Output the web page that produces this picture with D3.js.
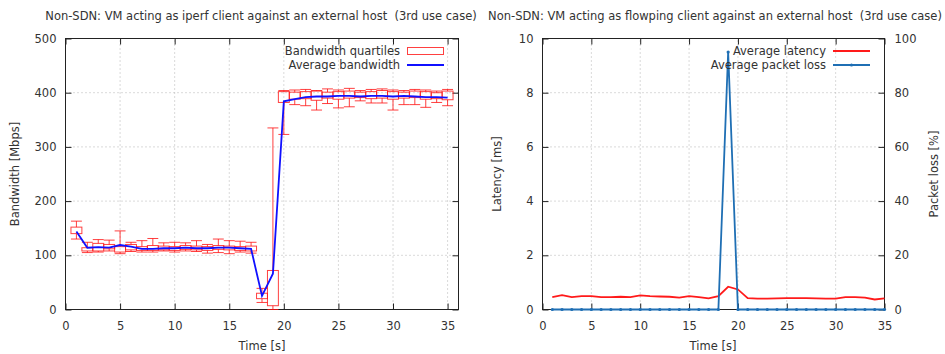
<!DOCTYPE html>
<html>
<head>
<meta charset="utf-8">
<script src="https://cdn.jsdelivr.net/npm/d3@7"></script>
<style>
body { margin: 0; background: #fff; }
text { font-family: "DejaVu Sans", sans-serif; font-size: 11.5px; fill: #333; white-space: pre; }
</style>
</head>
<body>
<svg id="chart" width="945" height="354"></svg>
<script>
'use strict';

// time axis (seconds)
var times = [1, 2, 3, 4, 5, 6, 7, 8, 9, 10, 11, 12, 13, 14, 15, 16, 17, 18, 19, 20,
	21, 22, 23, 24, 25, 26, 27, 28, 29, 30, 31, 32, 33, 34, 35];

// iperf bandwidth quartiles [Mbps]
var bwMin = [130, 105, 106, 108, 103, 107, 106, 106, 108, 106, 108, 107, 104, 105, 103, 106, 104, 13, 0, 323,
	378, 376, 368, 380, 372, 374, 385, 381, 381, 368, 378, 378, 373, 382, 376];
var bwQ1 = [140, 108, 108, 112, 106, 110, 109, 109, 110, 109, 111, 110, 109, 111, 110, 109, 108, 20, 7, 382,
	388, 389, 386, 390, 388, 390, 391, 389, 390, 388, 390, 391, 388, 389, 387];
var bwQ3 = [152, 114, 122, 120, 116, 120, 116, 118, 117, 116, 118, 117, 116, 118, 117, 116, 117, 30, 72, 402,
	401, 402, 403, 401, 402, 403, 401, 402, 404, 402, 401, 403, 402, 400, 403];
var bwMax = [163, 124, 129, 128, 145, 124, 127, 131, 123, 124, 123, 127, 120, 130, 127, 126, 124, 39, 335, 404,
	405, 406, 404, 407, 405, 408, 404, 406, 407, 405, 404, 406, 405, 403, 406];
var bwAvg = [144, 114, 115, 114, 119, 116, 112, 112, 113, 113, 114, 113, 113, 114, 114, 113, 112, 25, 66, 384,
	388, 392, 393, 393, 394, 394, 393, 394, 394, 393, 394, 393, 392, 392, 391];

// flowping latency [ms] and packet loss [%]
var latency = [0.46, 0.53, 0.46, 0.49, 0.49, 0.46, 0.46, 0.47, 0.46, 0.52, 0.49, 0.48, 0.47, 0.44, 0.49, 0.46, 0.41, 0.49, 0.84, 0.74,
	0.42, 0.40, 0.40, 0.41, 0.42, 0.42, 0.42, 0.41, 0.40, 0.40, 0.46, 0.46, 0.44, 0.37, 0.41];
var packetLoss = [0, 0, 0, 0, 0, 0, 0, 0, 0, 0, 0, 0, 0, 0, 0, 0, 0, 0, 95, 0,
	0, 0, 0, 0, 0, 0, 0, 0, 0, 0, 0, 0, 0, 0, 0];

// tick values
var timeTicksL = [0, 5, 10, 15, 20, 25, 30, 35];
var timeTicksR = [0, 5, 10, 15, 20, 25, 30, 35];
var bwTicks = [0, 100, 200, 300, 400, 500];
var latTicks = [0, 2, 4, 6, 8, 10];
var lossTicks = [0, 20, 40, 60, 80, 100];

var svg = d3.select('#chart');
svg.append('rect').attr('width', 945).attr('height', 354).attr('fill', '#fff');

function drawFrame(g, x, y, xTicks, yTicks) {
	var x0 = x.range()[0], x1 = x.range()[1];
	var y0 = y.range()[0], y1 = y.range()[1];

	// dotted grid
	g.selectAll('line.gx').data(xTicks.filter(function (d) { return x(d) > x0 + 1 && x(d) < x1 - 1; }))
		.enter().append('line').attr('class', 'gx')
		.attr('x1', function (d) { return x(d); }).attr('x2', function (d) { return x(d); })
		.attr('y1', y0).attr('y2', y1)
		.attr('stroke', '#b4b4b4').attr('stroke-dasharray', '1,3');
	g.selectAll('line.gy').data(yTicks.filter(function (d) { return y(d) < y0 - 1 && y(d) > y1 + 1; }))
		.enter().append('line').attr('class', 'gy')
		.attr('y1', function (d) { return y(d); }).attr('y2', function (d) { return y(d); })
		.attr('x1', x0).attr('x2', x1)
		.attr('stroke', '#b4b4b4').attr('stroke-dasharray', '1,3');

	// ticks pointing inwards, mirrored on top
	g.append('g').attr('transform', 'translate(0,' + y0 + ')')
		.call(d3.axisBottom(x).tickValues(xTicks).tickSize(-6).tickPadding(12));
	g.append('g').attr('transform', 'translate(0,' + y1 + ')')
		.call(d3.axisTop(x).tickValues(xTicks).tickSize(-6).tickFormat(''));
	g.append('g').attr('transform', 'translate(' + x0 + ',0)')
		.call(d3.axisLeft(y).tickValues(yTicks).tickSize(-6).tickPadding(9));

	g.selectAll('.domain').remove();
	g.selectAll('.tick line').attr('stroke', '#222');
	g.selectAll('.tick text').attr('fill', '#333').style('font-size', '11.5px').attr('font-family', null);

	g.append('rect').attr('x', x0).attr('y', y1)
		.attr('width', x1 - x0).attr('height', y0 - y1)
		.attr('fill', 'none').attr('stroke', '#222');
}

// ---- left chart: iperf bandwidth ----
var xL = d3.scaleLinear().domain([0, 36]).range([65.5, 458.5]);
var yL = d3.scaleLinear().domain([0, 500]).range([309.5, 38.5]);
var left = svg.append('g');
drawFrame(left, xL, yL, timeTicksL, bwTicks);
left.append('g').attr('transform', 'translate(' + xL.range()[1] + ',0)')
	.call(d3.axisRight(yL).tickValues(bwTicks).tickSize(-6).tickFormat(''))
	.call(function (a) { a.select('.domain').remove(); a.selectAll('line').attr('stroke', '#222'); });

var boxes = left.append('g').attr('stroke', '#ff1010').attr('stroke-opacity', 0.8).attr('fill', 'none');
times.forEach(function (t, i) {
	var xa = xL(t - 0.5), xb = xL(t + 0.5), xm = xL(t);
	boxes.append('rect').attr('x', xa).attr('y', yL(bwQ3[i]))
		.attr('width', xb - xa).attr('height', yL(bwQ1[i]) - yL(bwQ3[i]));
	boxes.append('line').attr('x1', xm).attr('x2', xm).attr('y1', yL(bwQ3[i])).attr('y2', yL(bwMax[i]));
	boxes.append('line').attr('x1', xm).attr('x2', xm).attr('y1', yL(bwQ1[i])).attr('y2', yL(bwMin[i]));
	boxes.append('line').attr('x1', xa).attr('x2', xb).attr('y1', yL(bwMax[i])).attr('y2', yL(bwMax[i]));
	boxes.append('line').attr('x1', xa).attr('x2', xb).attr('y1', yL(bwMin[i])).attr('y2', yL(bwMin[i]));
});

left.append('path').datum(times)
	.attr('fill', 'none').attr('stroke', '#1010ff').attr('stroke-width', 1.8)
	.attr('d', d3.line().x(function (d) { return xL(d); }).y(function (d, i) { return yL(bwAvg[i]); }));

left.append('text').attr('x', 400).attr('y', 55).attr('text-anchor', 'end').text('Bandwidth quartiles');
left.append('rect').attr('x', 407.5).attr('y', 47.5).attr('width', 36).attr('height', 7)
	.attr('fill', 'none').attr('stroke', '#ff1010').attr('stroke-opacity', 0.8);
left.append('text').attr('x', 400).attr('y', 69).attr('text-anchor', 'end').text('Average bandwidth');
left.append('line').attr('x1', 407).attr('x2', 444).attr('y1', 65).attr('y2', 65)
	.attr('stroke', '#1010ff').attr('stroke-width', 1.8);

left.append('text').attr('x', 261).attr('y', 20).attr('text-anchor', 'middle')
	.text('Non-SDN: VM acting as iperf client against an external host  (3rd use case)');
left.append('text').attr('x', 262).attr('y', 350).attr('text-anchor', 'middle').text('Time [s]');
left.append('text').attr('transform', 'translate(19,174) rotate(-90)').attr('text-anchor', 'middle')
	.text('Bandwidth [Mbps]');

// ---- right chart: flowping latency / loss ----
var xR = d3.scaleLinear().domain([0, 35]).range([542.5, 884.5]);
var yR = d3.scaleLinear().domain([0, 10]).range([309.5, 38.5]);
var yR2 = d3.scaleLinear().domain([0, 100]).range([309.5, 38.5]);
var right = svg.append('g');
drawFrame(right, xR, yR, timeTicksR, latTicks);
right.append('g').attr('transform', 'translate(' + xR.range()[1] + ',0)')
	.call(d3.axisRight(yR2).tickValues(lossTicks).tickSize(-6).tickPadding(10))
	.call(function (a) {
		a.select('.domain').remove();
		a.selectAll('line').attr('stroke', '#222');
		a.selectAll('text').attr('fill', '#333').style('font-size', '11.5px').attr('font-family', null);
	});

right.append('path').datum(times)
	.attr('fill', 'none').attr('stroke', '#ff1a1a').attr('stroke-width', 1.8)
	.attr('d', d3.line().x(function (d) { return xR(d); }).y(function (d, i) { return yR(latency[i]); }));

right.append('path').datum(times)
	.attr('fill', 'none').attr('stroke', '#1f6fb4').attr('stroke-width', 1.8)
	.attr('d', d3.line().x(function (d) { return xR(d); }).y(function (d, i) { return yR2(packetLoss[i]); }));
right.selectAll('circle.loss').data(times).enter().append('circle').attr('class', 'loss')
	.attr('cx', function (d) { return xR(d); })
	.attr('cy', function (d, i) { return yR2(packetLoss[i]); })
	.attr('r', 1.6).attr('fill', '#1f6fb4');

right.append('text').attr('x', 826).attr('y', 55).attr('text-anchor', 'end').text('Average latency');
right.append('line').attr('x1', 833).attr('x2', 870).attr('y1', 51).attr('y2', 51)
	.attr('stroke', '#ff1a1a').attr('stroke-width', 1.8);
right.append('text').attr('x', 826).attr('y', 69).attr('text-anchor', 'end').text('Average packet loss');
right.append('line').attr('x1', 833).attr('x2', 870).attr('y1', 65).attr('y2', 65)
	.attr('stroke', '#1f6fb4').attr('stroke-width', 1.8);
right.append('circle').attr('cx', 851.5).attr('cy', 65).attr('r', 1.6).attr('fill', '#1f6fb4');

right.append('text').attr('x', 715).attr('y', 20).attr('text-anchor', 'middle')
	.text('Non-SDN: VM acting as flowping client against an external host  (3rd use case)');
right.append('text').attr('x', 713).attr('y', 350).attr('text-anchor', 'middle').text('Time [s]');
right.append('text').attr('transform', 'translate(501,174) rotate(-90)').attr('text-anchor', 'middle')
	.text('Latency [ms]');
right.append('text').attr('transform', 'translate(938,174) rotate(-90)').attr('text-anchor', 'middle')
	.text('Packet loss [%]');
</script>
</body>
</html>
